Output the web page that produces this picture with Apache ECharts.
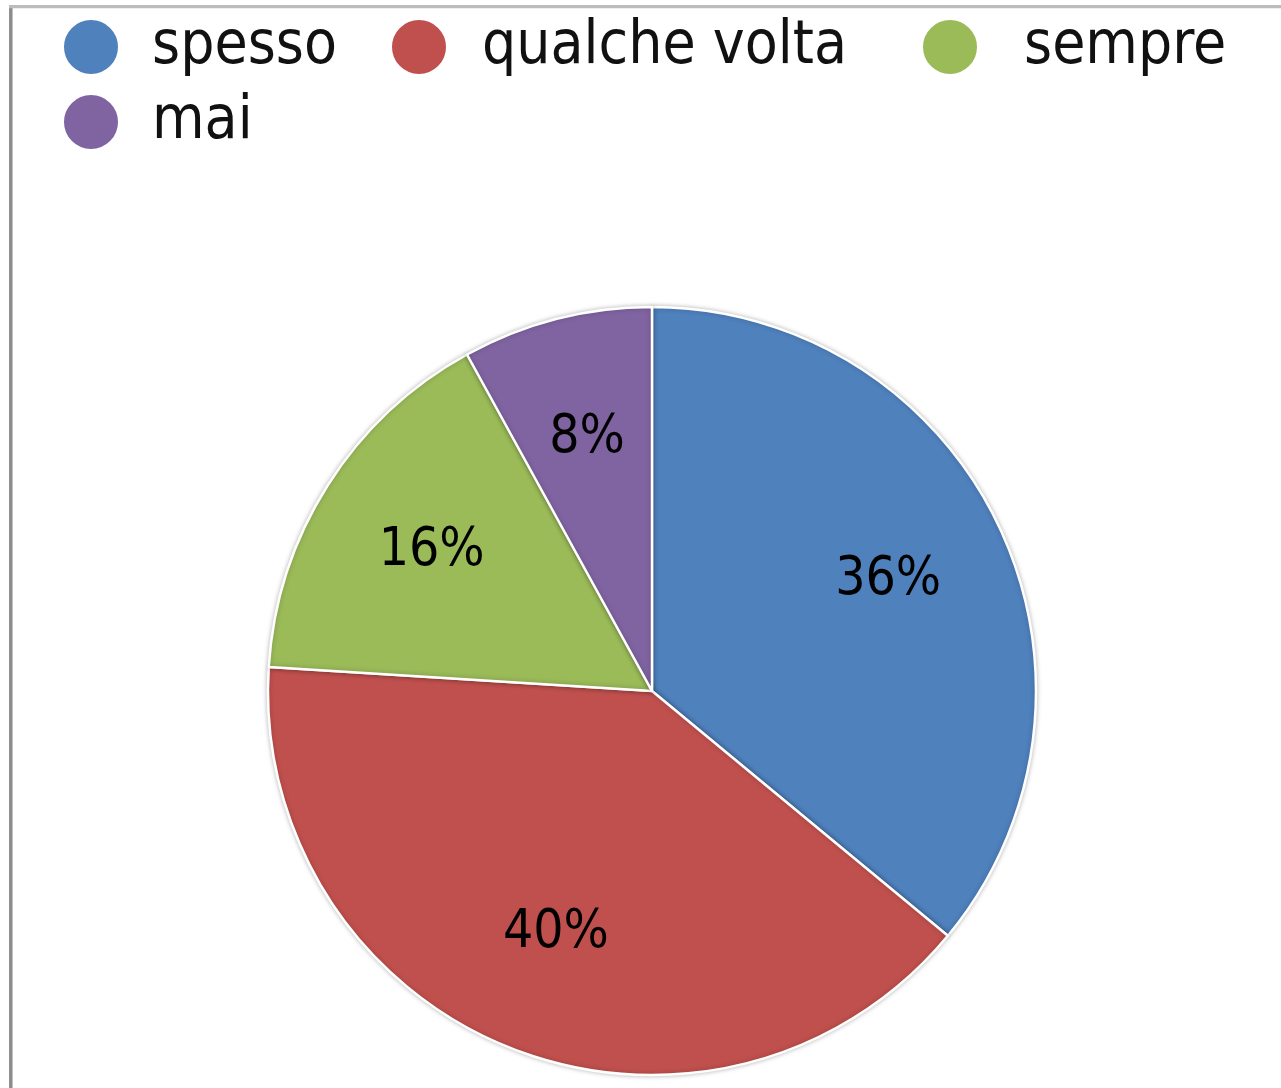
<!DOCTYPE html>
<html>
<head>
<meta charset="utf-8">
<script src="https://cdn.jsdelivr.net/npm/echarts@6/dist/echarts.min.js"></script>
<style>
  html, body { margin: 0; padding: 0; background: #fff; }
  #pie { width: 1281px; height: 1088px; }
</style>
</head>
<body>
<div id="pie"></div>
<script>
// dati del grafico
const categorie = ['spesso', 'qualche volta', 'sempre', 'mai'];
const valori = [36, 40, 16, 8];
const colori = ['#4F81BD', '#C0504D', '#9BBB59', '#8064A2'];

const legendFont = '"DejaVu Sans Condensed", "DejaVu Sans", sans-serif';
const labelFont = '"Liberation Sans Narrow", "DejaVu Sans Condensed", sans-serif';

const dati = categorie.map(function (nome, i) {
    return { name: nome, value: valori[i] };
});

// una legenda per voce, per collocarle come nell'originale
function voceLegenda(nome, left, top, gap) {
    return {
        data: [nome],
        left: left,
        top: top,
        padding: 0,
        orient: 'horizontal',
        icon: 'circle',
        itemWidth: 56,
        itemHeight: 56,
        selectedMode: false,
        textStyle: {
            fontFamily: legendFont,
            fontSize: 60,
            color: '#111',
            lineHeight: 56,
            padding: [0, 0, 0, gap]
        }
    };
}

const chart = echarts.init(document.getElementById('pie'));

const option = {
    animation: false,
    color: colori,
    legend: [
        voceLegenda('spesso', 62, 17, 28),
        voceLegenda('qualche volta', 390, 17, 30),
        voceLegenda('sempre', 921, 17, 41),
        voceLegenda('mai', 62, 92, 28)
    ],
    graphic: [
        {
            type: 'line',
            shape: { x1: 10.8, y1: 5, x2: 10.8, y2: 1088 },
            style: { stroke: '#8c8c8c', lineWidth: 3.5 }
        },
        {
            type: 'line',
            shape: { x1: 9, y1: 6.6, x2: 1281, y2: 6.6 },
            style: { stroke: '#bcbcbc', lineWidth: 3.2 }
        }
    ],
    series: [
        {
            type: 'pie',
            center: [652, 691],
            radius: [0, 384],
            startAngle: 90,
            clockwise: true,
            silent: true,
            data: dati,
            label: { show: false },
            labelLine: { show: false },
            itemStyle: {
                borderColor: '#fff',
                borderWidth: 2.5,
                shadowBlur: 5,
                shadowColor: 'rgba(0,0,0,0.25)'
            }
        },
        {
            // serie trasparente solo per le etichette (più verso il bordo)
            type: 'pie',
            center: [652, 691],
            radius: [132, 384],
            startAngle: 90,
            clockwise: true,
            silent: true,
            data: dati,
            itemStyle: { color: 'rgba(0,0,0,0)', borderWidth: 0 },
            labelLine: { show: false },
            label: {
                show: true,
                position: 'inside',
                formatter: '{c}%',
                fontFamily: labelFont,
                fontSize: 53,
                color: '#000',
                padding: [16, 0, 0, 0]
            }
        }
    ]
};

chart.setOption(option);
</script>
</body>
</html>
